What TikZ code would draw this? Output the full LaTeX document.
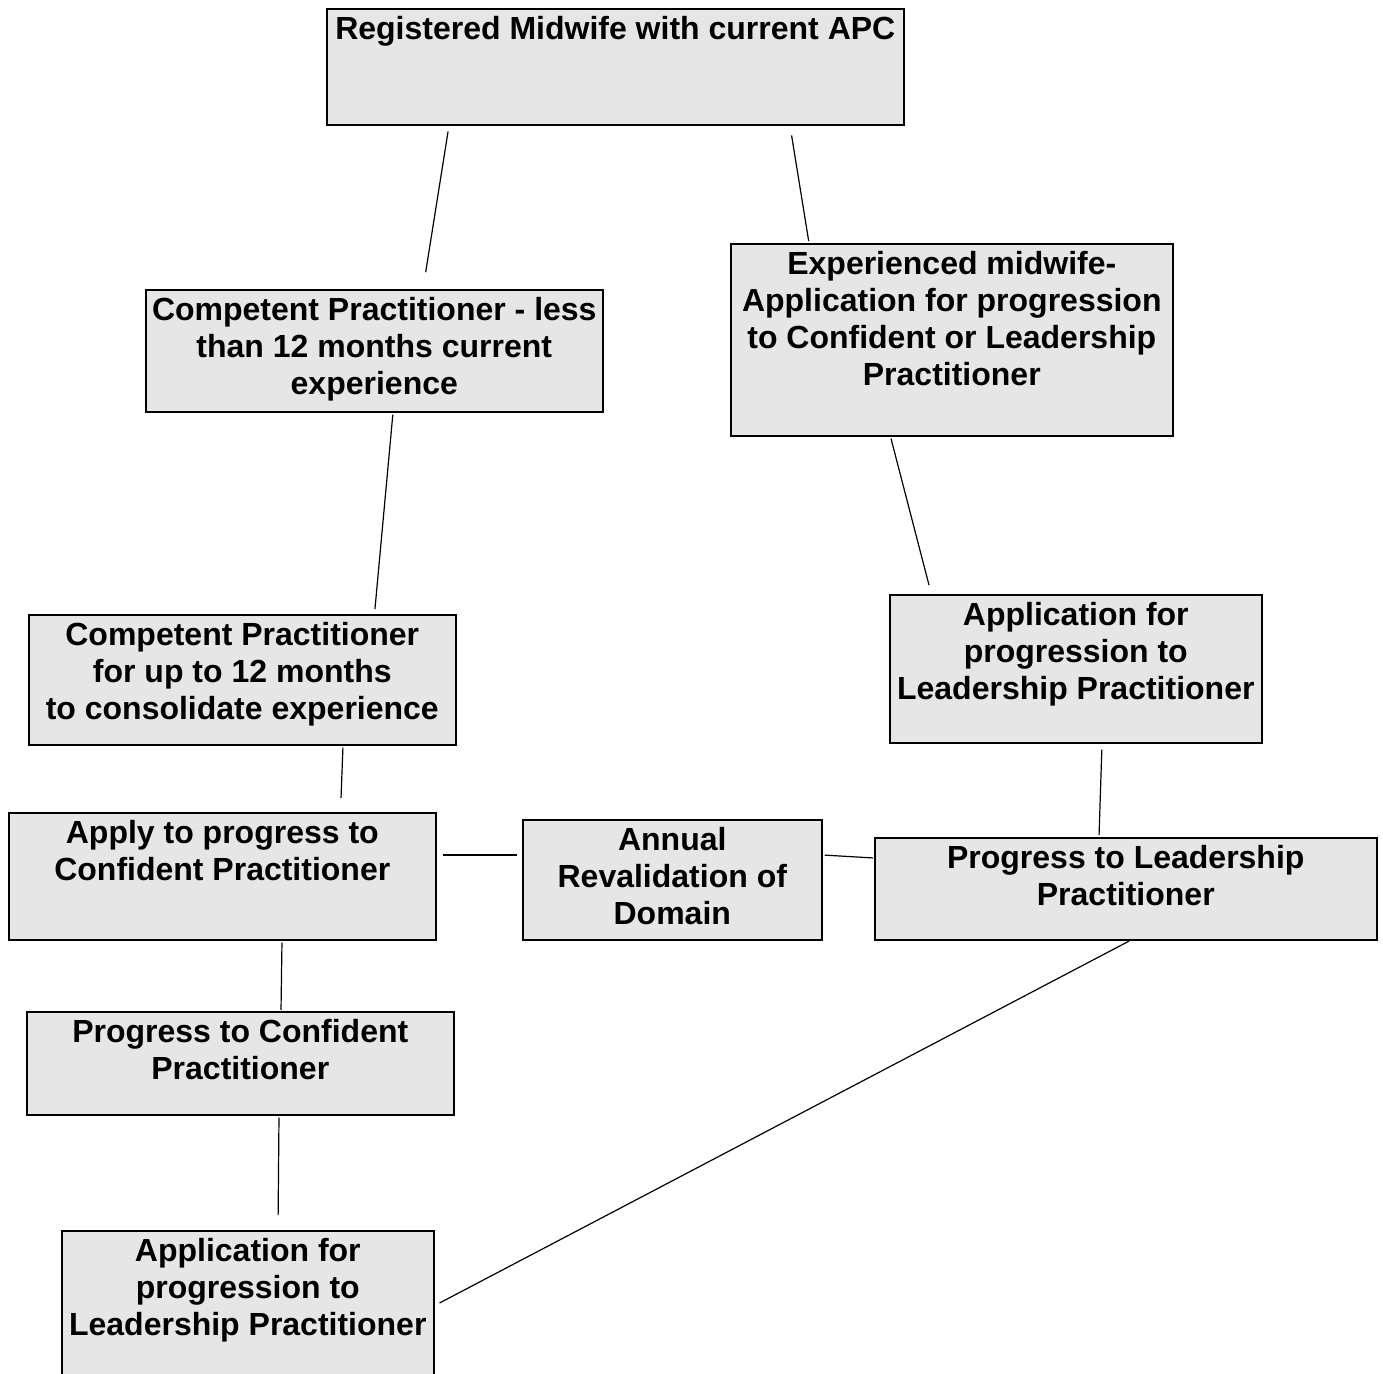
\documentclass[tikz,border=0pt]{standalone}
\usepackage{fontspec}
\setmainfont{Liberation Sans}
\usepackage{tikz}
\usetikzlibrary{calc}
\definecolor{boxgray}{RGB}{230,230,230}
\newcommand{\stagetext}[3]{\parbox[c][#2][t]{#1}{\centering\vspace*{4pt}#3\par}}
\tikzset{
  stage/.style={draw,line width=0.8pt,fill=boxgray,inner sep=0pt,anchor=north west,
    font=\bfseries\fontsize{16}{18.5}\selectfont},
  link/.style={line width=0.6pt}
}

\begin{document}
\begin{tikzpicture}[x=0.5pt,y=-0.5pt]
      \useasboundingbox (0,0) rectangle (1383,1374);
      % boxes
      \node [stage] (reg) at (326,8) {\stagetext{288.5pt}{58pt}{Registered Midwife with current APC}};
      \node [stage] (comp) at (145,289) {\stagetext{228.5pt}{61pt}{Competent Practitioner - less\\than 12 months current\\experience}};
      \node [stage] (exp) at (730,243) {\stagetext{221pt}{96pt}{Experienced midwife-\\Application for progression\\to Confident or Leadership\\Practitioner}};
      \node [stage] (consol) at (28,614) {\stagetext{213.5pt}{65pt}{Competent Practitioner\\for up to 12 months\\to consolidate experience}};
      \node [stage] (applead) at (889,594) {\stagetext{186pt}{74pt}{Application for\\progression to\\Leadership Practitioner}};
      \node [stage] (applyconf) at (8,812) {\stagetext{213.5pt}{63.5pt}{Apply to progress to\\Confident Practitioner}};
      \node [stage] (annual) at (522,819) {\stagetext{149.5pt}{60pt}{Annual\\Revalidation of\\Domain}};
      \node [stage] (proglead) at (874,837) {\stagetext{251pt}{51pt}{Progress to Leadership\\Practitioner}};
      \node [stage] (progconf) at (26,1011) {\stagetext{213.5pt}{51.5pt}{Progress to Confident\\Practitioner}};
      \node [stage] (appleadb) at (61,1230) {\stagetext{186pt}{80pt}{Application for\\progression to\\Leadership Practitioner}};

      % connectors
      \draw [link,shorten <=3pt,shorten >=8.5pt] ($(reg.south west)+(123,0)$) -- ($(comp.north west)+(278,0)$);
      \draw [link,shorten <=5pt,shorten >=1pt] ($(reg.south west)+(464,0)$) -- ($(exp.north west)+(79,0)$);
      \draw [link,shorten <=1pt,shorten >=2.5pt] ($(comp.south west)+(248,0)$) -- ($(consol.north west)+(346.5,0)$);
      \draw [link,shorten <=1pt,shorten >=4.6pt] ($(exp.south west)+(160.5,0)$) -- ($(applead.north west)+(42.3,0)$);
      \draw [link,shorten <=1pt,shorten >=7pt] ($(consol.south west)+(315,0)$) -- ($(applyconf.north west)+(332.5,0)$);
      \draw [link,shorten <=3pt,shorten >=2.5pt] ($(applyconf.north east)+(0,43)$) -- ($(annual.north west)+(0,36)$);
      \draw [link,shorten <=1pt,shorten >=0.5pt] ($(annual.north east)+(0,36)$) -- ($(proglead.north west)+(0,21)$);
      \draw [link,shorten <=3pt,shorten >=1pt] ($(applead.south west)+(213,0)$) -- ($(proglead.north west)+(225,0)$);
      \draw [link,shorten <=1pt,shorten >=0.5pt] ($(applyconf.south west)+(274,0)$) -- ($(progconf.north west)+(255,0)$);
      \draw [link,shorten <=1pt,shorten >=7.5pt] ($(progconf.south west)+(253,0)$) -- ($(appleadb.north west)+(217,0)$);
      \draw [link,shorten <=0.5pt,shorten >=2.8pt] ($(proglead.south west)+(256,0)$) -- ($(appleadb.north east)+(0,75.6)$);
\end{tikzpicture}
\end{document}
